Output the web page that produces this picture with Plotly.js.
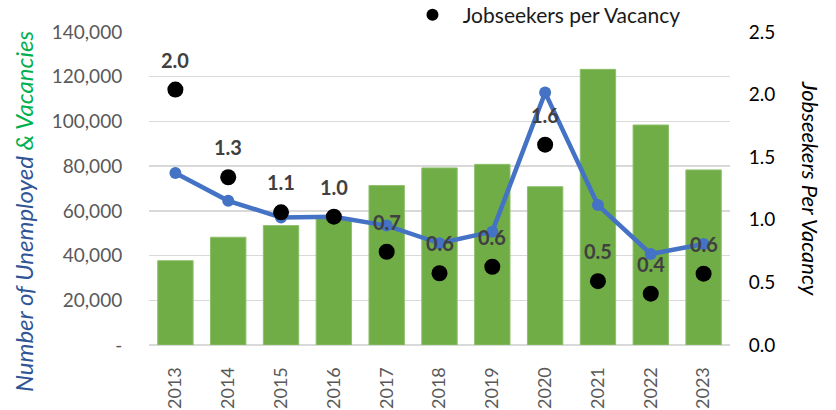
<!DOCTYPE html>
<html>
<head>
<meta charset="utf-8">
<script src="https://cdn.plot.ly/plotly-3.0.1.min.js"></script>
<style>html,body{margin:0;padding:0;background:#fff;}#chart{width:836px;height:410px;}</style>
</head>
<body>
<div id="chart"></div>
<script>
const years = ['2013','2014','2015','2016','2017','2018','2019','2020','2021','2022','2023'];
const vacancies = [37700, 48200, 53400, 56600, 71300, 79200, 80800, 70800, 123300, 98400, 78300];
const unemployed = [76900, 64500, 57000, 57400, 53400, 45500, 50700, 112900, 62600, 40700, 45200];
const jobseekersPerVacancy = [2.04, 1.34, 1.06, 1.025, 0.745, 0.573, 0.625, 1.60, 0.51, 0.41, 0.57];
const leftTickVals = [0, 20000, 40000, 60000, 80000, 100000, 120000, 140000];
const leftTickText = ['-', '20,000', '40,000', '60,000', '80,000', '100,000', '120,000', '140,000'];
const rightTickVals = [0, 0.5, 1.0, 1.5, 2.0, 2.5];
const rightTickText = ['0.0', '0.5', '1.0', '1.5', '2.0', '2.5'];

const FONT = 'Lato, "Open Sans", sans-serif';

const traces = [
  {
    type: 'bar', x: years, y: vacancies, name: 'Vacancies', showlegend: false,
    marker: {color: '#70AD47', line: {color: '#8CC06A', width: 1}},
    width: 0.67, hoverinfo: 'skip'
  },
  {
    type: 'scatter', mode: 'lines+markers', x: years, y: unemployed, name: 'Unemployed', showlegend: false,
    line: {color: '#4472C4', width: 4.5}, marker: {color: '#4472C4', size: 12}, hoverinfo: 'skip'
  },
  {
    type: 'scatter', mode: 'markers', x: years, y: jobseekersPerVacancy, yaxis: 'y2',
    name: '\u00a0\u00a0Jobseekers per Vacancy', marker: {color: '#000000', size: 16}, hoverinfo: 'skip'
  }
];

const annotations = years.map((yr, i) => ({
  x: i, y: jobseekersPerVacancy[i], xref: 'x', yref: 'y2',
  text: jobseekersPerVacancy[i].toFixed(1), showarrow: false, yshift: 30,
  font: {family: FONT, size: 20, color: '#404040', weight: 'bold'}
}));
annotations.push({
  xref: 'paper', yref: 'paper', x: -0.215, y: 0.425, xanchor: 'center', yanchor: 'middle',
  textangle: -90, showarrow: false,
  text: '<span style="color:#2F5597">Number of Unemployed </span><span style="color:#00B050">&amp; Vacancies</span>',
  font: {family: FONT, size: 24, style: 'italic'}
});
annotations.push({
  xref: 'paper', yref: 'paper', x: 1.139, y: 0.50, xanchor: 'center', yanchor: 'middle',
  textangle: 90, showarrow: false,
  text: 'Jobseekers Per Vacancy',
  font: {family: FONT, size: 22, style: 'italic', color: '#000000'}
});

const layout = {
  width: 836, height: 410,
  margin: {l: 149, r: 106, t: 32, b: 65, autoexpand: false},
  paper_bgcolor: '#ffffff', plot_bgcolor: '#ffffff',
  font: {family: FONT, color: '#595959'},
  showlegend: true,
  legend: {
    x: 0.4535, y: 1.054, xanchor: 'left', yanchor: 'middle', orientation: 'h',
    font: {family: FONT, size: 21, color: '#1a1a1a'}, bgcolor: 'rgba(0,0,0,0)', itemsizing: 'constant'
  },
  xaxis: {
    type: 'category', range: [-0.5, years.length - 0.5], tickangle: -90,
    tickfont: {family: FONT, size: 18, color: '#595959'},
    ticks: 'outside', ticklen: 14, tickcolor: 'rgba(0,0,0,0)',
    showgrid: false, showline: false, zeroline: false, fixedrange: true
  },
  yaxis: {
    range: [0, 140000], tickvals: leftTickVals, ticktext: leftTickText,
    tickfont: {family: FONT, size: 19, color: '#595959'},
    ticks: 'outside', ticklen: 22, tickcolor: 'rgba(0,0,0,0)',
    showgrid: true, gridcolor: '#D9D9D9', gridwidth: 1.5,
    zeroline: true, zerolinecolor: '#D9D9D9', zerolinewidth: 1.5, showline: false, fixedrange: true
  },
  yaxis2: {
    range: [0, 2.5], overlaying: 'y', side: 'right', tickvals: rightTickVals, ticktext: rightTickText,
    tickfont: {family: FONT, size: 19, color: '#000000'},
    ticks: 'outside', ticklen: 14, tickcolor: 'rgba(0,0,0,0)',
    showgrid: false, zeroline: false, showline: false, fixedrange: true
  },
  annotations: annotations
};

Plotly.newPlot('chart', traces, layout, {displayModeBar: false, staticPlot: true});
</script>
</body>
</html>
